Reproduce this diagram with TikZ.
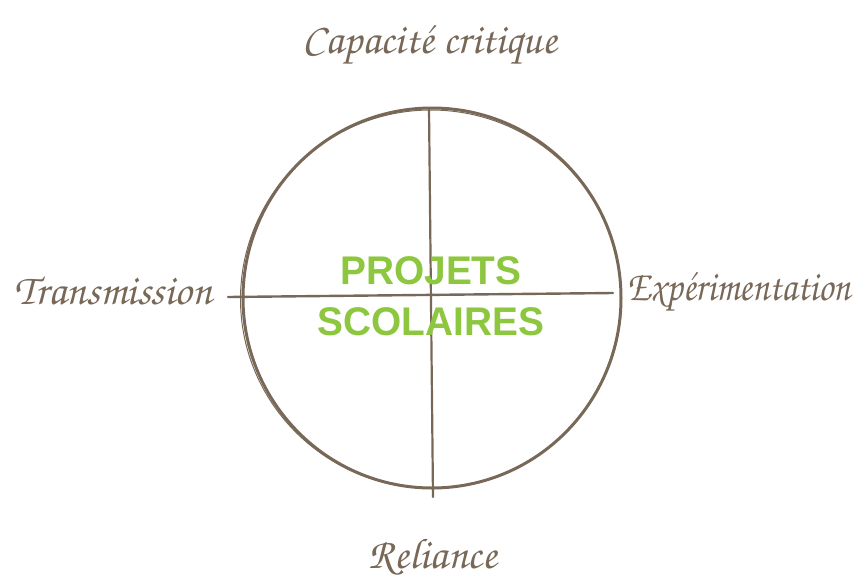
\documentclass[tikz,border=0pt]{standalone}
\usepackage{fontspec}
\newfontfamily\boldsans{Liberation Sans}
\definecolor{brownline}{HTML}{786858}
\definecolor{leafgreen}{HTML}{8DC63F}
\tikzset{
  hand/.style={text=brownline, font=\fontencoding{T1}\fontfamily{pzc}\fontsize{43}{45}\selectfont, inner sep=0pt},
  title/.style={text=leafgreen, font=\boldsans\bfseries\fontsize{40}{41}\selectfont, inner sep=0pt},
  sketch/.style={draw=brownline, line cap=round}
}
\begin{document}
\begin{tikzpicture}[x=1pt,y=-1pt]
\useasboundingbox (0,0) rectangle (855,579);
% circle
\draw[sketch, line width=3pt] (432,298) ellipse [x radius=189, y radius=190];
\draw[sketch, line width=1pt] (431,299) ellipse [x radius=190.5, y radius=189];
% axes
\coordinate (hl) at (228,297);
\coordinate (hr) at (613,293);
\coordinate (vt) at (429,108);
\coordinate (vb) at (433,497);
\draw[sketch, line width=2.4pt] (hl) -- (hr);
\draw[sketch, line width=2.2pt] (vt) -- (vb);
% labels
\node[hand] (top) at (430,46) {Capacité critique};
\node[hand] (left) at (113,291) {Transmission};
\node[hand, xscale=0.87] (right) at (739,293) {Expérimentation};
\node[hand] (bottom) at (433,557) {Reliance};
\node[title, xscale=0.97] (t1) at (431,271) {PROJETS};
\node[title, xscale=0.97] (t2) at (431,322) {SCOLAIRES};
\end{tikzpicture}
\end{document}
